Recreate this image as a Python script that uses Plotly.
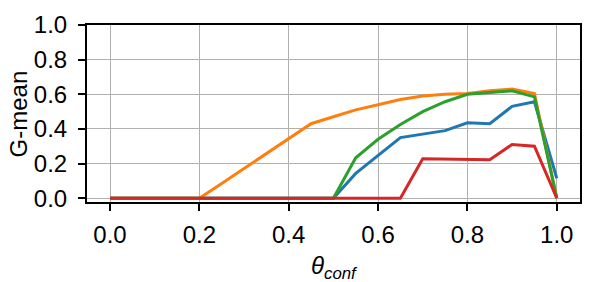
import plotly.graph_objects as go

theta = [0.0, 0.05, 0.1, 0.15, 0.2, 0.25, 0.3, 0.35, 0.4, 0.45, 0.5,
         0.55, 0.6, 0.65, 0.7, 0.75, 0.8, 0.85, 0.9, 0.95, 1.0]

blue = [0, 0, 0, 0, 0, 0, 0, 0, 0, 0, 0,
        0.143, 0.245, 0.35, 0.37, 0.39, 0.435, 0.43, 0.53, 0.557, 0.115]
orange = [0, 0, 0, 0, 0, 0.085, 0.17, 0.255, 0.34, 0.43, 0.47,
          0.51, 0.54, 0.57, 0.59, 0.60, 0.605, 0.62, 0.63, 0.605, 0.0]
green = [0, 0, 0, 0, 0, 0, 0, 0, 0, 0, 0,
         0.233, 0.34, 0.426, 0.50, 0.557, 0.60, 0.61, 0.62, 0.585, 0.0]
red = [0, 0, 0, 0, 0, 0, 0, 0, 0, 0, 0,
       0, 0, 0, 0.228, 0.227, 0.226, 0.222, 0.31, 0.30, 0.0]

series = [("blue", blue, "#1f77b4"), ("orange", orange, "#ff7f0e"),
          ("green", green, "#2ca02c"), ("red", red, "#d62728")]

x_ticks = [0.0, 0.2, 0.4, 0.6, 0.8, 1.0]
y_ticks = [0.0, 0.2, 0.4, 0.6, 0.8, 1.0]
x_title = "<i>θ</i><sub><i>conf</i></sub>"
y_title = "G-mean"

fig = go.Figure()
for name, vals, col in series:
    fig.add_trace(go.Scatter(x=theta, y=vals, mode="lines", name=name,
                             line=dict(color=col, width=3), showlegend=False))

font = dict(family="Liberation Sans, Arial, sans-serif", size=24, color="black")
axis_common = dict(showgrid=True, gridcolor="#b0b0b0", gridwidth=1.3,
                   showline=True, linecolor="black", linewidth=2, mirror=True,
                   ticks="outside", ticklen=7, tickwidth=1.5, tickcolor="black",
                   zeroline=False, tickfont=font, automargin=False)

# The page body has an 8px default margin, so the figure is 8px smaller
# than the window and the left/top margins are reduced by 8px.
fig.update_layout(
    width=590, height=274,
    margin=dict(l=79, r=18, t=17, b=80),
    paper_bgcolor="white", plot_bgcolor="white",
    font=font,
    xaxis=dict(range=[-0.0515, 1.052], tickvals=x_ticks,
               ticktext=[f"{v:.1f}" for v in x_ticks], ticklabelstandoff=3,
               **axis_common),
    yaxis=dict(range=[-0.022, 1.0], tickvals=y_ticks,
               ticktext=[f"{v:.1f}" for v in y_ticks], ticklabelstandoff=6,
               **axis_common),
    annotations=[
        dict(text=x_title, xref="paper", yref="paper", x=0.503, y=-0.27,
             xanchor="center", yanchor="top", showarrow=False, font=font),
        dict(text=y_title, xref="paper", yref="paper", x=-0.138, y=0.5,
             xanchor="center", yanchor="middle", textangle=-90,
             showarrow=False, font=font),
    ],
)

fig.write_html("out.html")
